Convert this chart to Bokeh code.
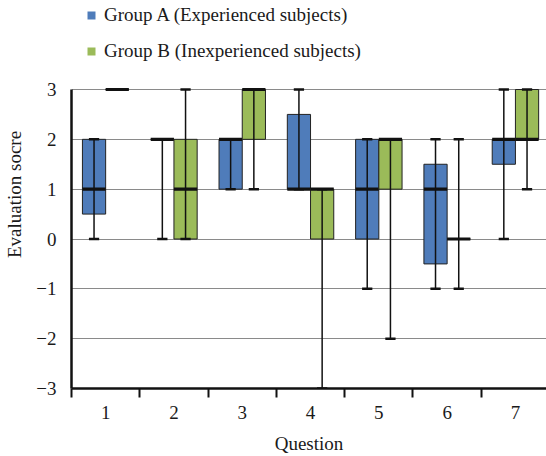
from bokeh.plotting import figure
from bokeh.models import FixedTicker, Legend, LegendItem, Range1d
from bokeh.embed import file_html
from bokeh.resources import INLINE

# ---- data ----
questions = [1, 2, 3, 4, 5, 6, 7]
y_ticks = [-3, -2, -1, 0, 1, 2, 3]
y_tick_labels = ["\u22123", "\u22122", "\u22121", "0", "1", "2", "3"]

a_min = [0, 0, 1, 1, -1, -1, 0]
a_q1 = [0.5, 2, 1, 1, 0, -0.5, 1.5]
a_med = [1, 2, 2, 1, 1, 1, 2]
a_q3 = [2, 2, 2, 2.5, 2, 1.5, 2]
a_max = [2, 2, 2, 3, 2, 2, 3]

b_min = [3, 0, 1, -3, -2, -1, 1]
b_q1 = [3, 0, 2, 0, 1, 0, 2]
b_med = [3, 1, 3, 1, 2, 0, 2]
b_q3 = [3, 2, 3, 1, 2, 0, 3]
b_max = [3, 3, 3, 1, 2, 2, 3]

label_a = "Group A (Experienced subjects)"
label_b = "Group B (Inexperienced subjects)"

BLUE = "#4f7cba"
GREEN = "#9bbb59"
FONT = "Liberation Serif"
TXT = "#1a1a1a"

# frame extends up to the top of the canvas so the legend can sit inside it;
# the value axis itself is bounded to -3..3
p = figure(width=546, height=456, output_backend="svg", toolbar_location=None,
           x_range=Range1d(0.5, 7.455), y_range=Range1d(-3, 4.786),
           min_border_left=71, min_border_right=0, min_border_top=0,
           min_border_bottom=68)
p.outline_line_color = None
p.background_fill_color = "white"
p.xgrid.visible = False
p.ygrid.ticker = FixedTicker(ticks=y_ticks)
p.ygrid.grid_line_color = "#8a8a8a"
p.ygrid.grid_line_width = 1

half = 0.17
bw = 0.34
cap = 0.075


def draw_group(offset, mn, q1, med, q3, mx, color):
    xc = [q + offset for q in questions]
    lefts = [x - bw / 2 for x in xc]
    rights = [x + bw / 2 for x in xc]
    r = p.quad(left=lefts, right=rights, bottom=q1, top=q3,
               fill_color=color, line_color=None)
    p.quad(left=lefts, right=rights, bottom=q1, top=q3,
           fill_color=None, line_color="#222222", line_width=1)
    p.segment(x0=xc, x1=xc, y0=mn, y1=mx, line_color="#111111", line_width=1.5)
    p.segment(x0=[x - cap for x in xc], x1=[x + cap for x in xc], y0=mn, y1=mn,
              line_color="#111111", line_width=2.5)
    p.segment(x0=[x - cap for x in xc], x1=[x + cap for x in xc], y0=mx, y1=mx,
              line_color="#111111", line_width=2.5)
    p.segment(x0=lefts, x1=rights, y0=med, y1=med,
              line_color="#111111", line_width=3.2)
    return r


ra = draw_group(-half, a_min, a_q1, a_med, a_q3, a_max, BLUE)
rb = draw_group(half, b_min, b_q1, b_med, b_q3, b_max, GREEN)

legend = Legend(items=[LegendItem(label=label_a, renderers=[ra]),
                       LegendItem(label=label_b, renderers=[rb])],
                location=(15, 326), orientation="vertical",
                glyph_width=10, glyph_height=10, label_height=18, spacing=14,
                padding=0, margin=0, border_line_color=None, background_fill_alpha=0,
                label_text_font=FONT, label_text_font_size="19px",
                label_text_color=TXT, label_standoff=8)
p.add_layout(legend)

# x axis: labels at centres, tick marks between categories
boundaries = [q - 0.5 for q in questions] + [questions[-1] + 0.5]
p.xaxis.ticker = FixedTicker(ticks=questions, minor_ticks=boundaries)
p.xaxis.major_tick_out = 0
p.xaxis.major_tick_in = 0
p.xaxis.minor_tick_out = 9
p.xaxis.minor_tick_in = 0
p.xaxis.minor_tick_line_width = 2
p.xaxis.minor_tick_line_color = "#111111"
p.xaxis.axis_line_width = 2.5
p.xaxis.axis_line_color = "#111111"
p.xaxis.major_label_text_font = FONT
p.xaxis.major_label_text_font_size = "19px"
p.xaxis.major_label_text_color = TXT
p.xaxis.major_label_standoff = 8
p.xaxis.axis_label = "Question"
p.xaxis.axis_label_text_font = FONT
p.xaxis.axis_label_text_font_size = "19px"
p.xaxis.axis_label_text_font_style = "normal"
p.xaxis.axis_label_text_color = TXT
p.xaxis.axis_label_standoff = 11

# y axis
p.yaxis.bounds = (y_ticks[0], y_ticks[-1])
p.yaxis.ticker = FixedTicker(ticks=y_ticks)
p.yaxis.major_label_overrides = {t: s for t, s in zip(y_ticks, y_tick_labels)}
p.yaxis.major_tick_out = 0
p.yaxis.major_tick_in = 0
p.yaxis.minor_tick_out = 0
p.yaxis.minor_tick_in = 0
p.yaxis.axis_line_width = 2.5
p.yaxis.axis_line_color = "#111111"
p.yaxis.major_label_text_font = FONT
p.yaxis.major_label_text_font_size = "19px"
p.yaxis.major_label_text_color = TXT
p.yaxis.major_label_standoff = 15
p.yaxis.axis_label = "Evaluation socre"
p.yaxis.axis_label_text_font = FONT
p.yaxis.axis_label_text_font_size = "19px"
p.yaxis.axis_label_text_font_style = "normal"
p.yaxis.axis_label_text_color = TXT
p.yaxis.axis_label_standoff = 8

open("out.html", "w").write(file_html(p, INLINE))
